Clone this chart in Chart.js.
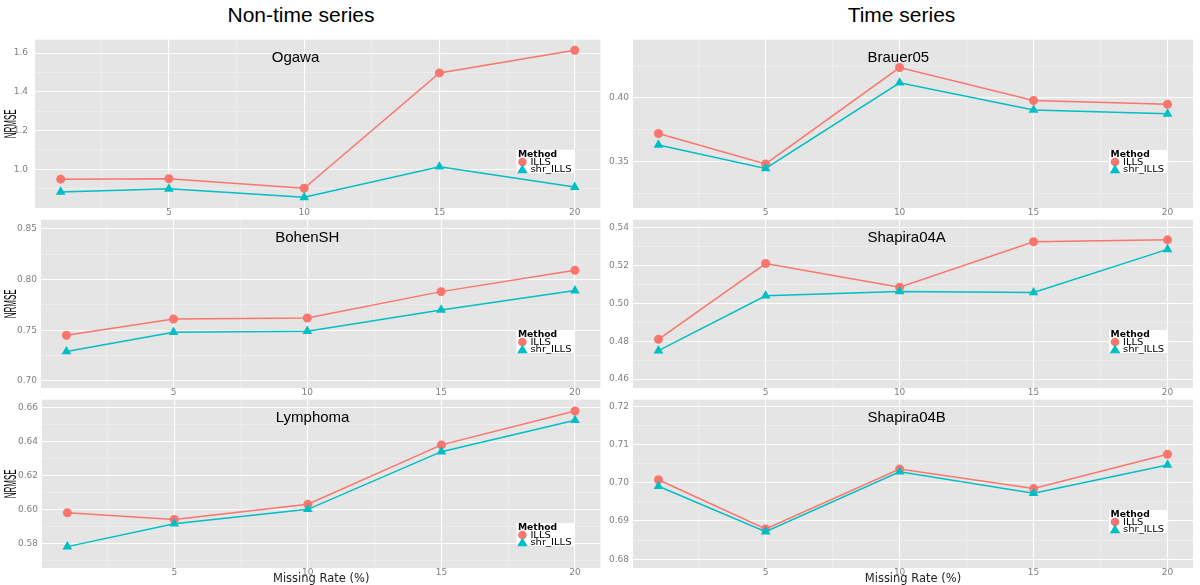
<!DOCTYPE html>
<html>
<head>
<meta charset="utf-8">
<script src="https://cdn.jsdelivr.net/npm/chart.js"></script>
<style>
  body { margin: 0; background: #fff; width: 1200px; height: 585px; position: relative; overflow: hidden; }
  .head { position: absolute; top: 3px; font-family: "Liberation Sans", Arial, sans-serif; font-size: 21px; color: #000; text-align: center; }
  .panel { position: absolute; }
</style>
</head>
<body>
<div class="head" style="left:0;width:602px">Non-time series</div>
<div class="head" style="left:603px;width:597px">Time series</div>

<script>
// ----- data -----
const missingRates = [1, 5, 10, 15, 20];
const xTicks = [5, 10, 15, 20];
const seriesNames = ["ILLS", "shr_ILLS"];

const ogawaILLS = [0.949, 0.951, 0.902, 1.498, 1.615];
const ogawaShr = [0.883, 0.899, 0.855, 1.013, 0.908];
const ogawaTicks = [1.0, 1.2, 1.4, 1.6];

const bohenILLS = [0.745, 0.761, 0.762, 0.788, 0.809];
const bohenShr = [0.729, 0.748, 0.749, 0.770, 0.789];
const bohenTicks = [0.70, 0.75, 0.80, 0.85];

const lymphILLS = [0.598, 0.594, 0.603, 0.638, 0.658];
const lymphShr = [0.578, 0.5915, 0.600, 0.634, 0.6525];
const lymphTicks = [0.58, 0.60, 0.62, 0.64, 0.66];

const brauerILLS = [0.372, 0.348, 0.424, 0.398, 0.395];
const brauerShr = [0.363, 0.3445, 0.412, 0.3905, 0.3875];
const brauerTicks = [0.35, 0.40];

const shapAILLS = [0.481, 0.521, 0.5085, 0.5325, 0.5335];
const shapAShr = [0.475, 0.504, 0.5063, 0.5057, 0.5285];
const shapATicks = [0.46, 0.48, 0.50, 0.52, 0.54];

const shapBILLS = [0.7008, 0.6879, 0.7036, 0.6985, 0.7075];
const shapBShr = [0.6991, 0.6872, 0.7029, 0.6973, 0.7047];
const shapBTicks = [0.68, 0.69, 0.70, 0.71, 0.72];

const colors = ["#F8766D", "#00BFC4"];

// ----- layout -----
const cols = [
  { canvasLeft: 0, canvasWidth: 606, areaRight: 602 },
  { canvasLeft: 603, canvasWidth: 597, areaRight: 1193 }
];
const rows = [
  { top: 38, bottom: 208, xh: 14 },
  { top: 218, bottom: 388, xh: 14 },
  { top: 398, bottom: 568, xh: 18 }
];

const panels = [
  { title: "Ogawa", col: 0, row: 0, ills: ogawaILLS, shr: ogawaShr, ticks: ogawaTicks, min: 0.80, max: 1.67, digits: 1, areaLeft: 35, tickPad: 7, legendBottom: 35 },
  { title: "BohenSH", col: 0, row: 1, ills: bohenILLS, shr: bohenShr, ticks: bohenTicks, min: 0.693, max: 0.859, digits: 2, areaLeft: 41, tickPad: 4, legendBottom: 35 },
  { title: "Lymphoma", col: 0, row: 2, ills: lymphILLS, shr: lymphShr, ticks: lymphTicks, min: 0.5654, max: 0.6647, digits: 2, areaLeft: 42, tickPad: 4, legendBottom: 22 },
  { title: "Brauer05", col: 1, row: 0, ills: brauerILLS, shr: brauerShr, ticks: brauerTicks, min: 0.3133, max: 0.446, digits: 2, areaLeft: 633, tickPad: 4, legendBottom: 35 },
  { title: "Shapira04A", col: 1, row: 1, ills: shapAILLS, shr: shapAShr, ticks: shapATicks, min: 0.4553, max: 0.5442, digits: 2, areaLeft: 633, tickPad: 4, legendBottom: 35 },
  { title: "Shapira04B", col: 1, row: 2, ills: shapBILLS, shr: shapBShr, ticks: shapBTicks, min: 0.6777, max: 0.7218, digits: 2, areaLeft: 633, tickPad: 4, legendBottom: 35 }
];

// majors plus ggplot-style minor breaks halfway between them
function withMinors(majors, min, max) {
  const step = majors.length > 1 ? majors[1] - majors[0] : 0.05;
  const out = [];
  majors.forEach((m) => { out.push(m); out.push(m - step / 2); });
  out.push(majors[majors.length - 1] + step / 2);
  return out.filter((v) => v >= min && v <= max).sort((a, b) => a - b);
}
const isMajor = (majors, v) => majors.some((m) => Math.abs(m - v) < 1e-9);

// text squeezed/stretched along its own direction (the source image was resized unevenly)
function stretchText(ctx, text, x, y, sx) {
  ctx.save();
  ctx.translate(x, y);
  ctx.scale(sx, 1);
  ctx.fillText(text, 0, 0);
  ctx.restore();
}

// grey panel, inside title, y title and the "Method" legend box
const panelDecor = {
  id: "panelDecor",
  beforeDraw(chart) {
    const { ctx, chartArea: a } = chart;
    ctx.save();
    ctx.fillStyle = "#E5E5E5";
    ctx.fillRect(a.left, a.top, a.right - a.left, a.bottom - a.top);
    ctx.restore();
  },
  afterDatasetsDraw(chart, args, opts) {
    const { ctx, chartArea: a } = chart;
    ctx.save();
    ctx.textAlign = "left";
    ctx.textBaseline = "middle";

    // panel title
    ctx.fillStyle = "#000";
    ctx.font = '15px "Liberation Sans", Arial, sans-serif';
    ctx.fillText(opts.title, chart.scales.x.getPixelForValue(8.8), a.top + 18);

    // y title, narrow
    if (opts.yTitle) {
      ctx.save();
      ctx.translate(11, (a.top + a.bottom) / 2);
      ctx.rotate(-Math.PI / 2);
      ctx.font = '17px "Liberation Sans Narrow", "Liberation Sans", sans-serif';
      ctx.textAlign = "center";
      const w = ctx.measureText(opts.yTitle).width;
      stretchText(ctx, opts.yTitle, 0, 0, 29 / w);
      ctx.restore();
    }

    // legend
    const right = a.right - 26, bottom = a.bottom - opts.legendBottom;
    const left = right - 58, top = bottom - 23;
    ctx.fillStyle = "#fff";
    ctx.fillRect(left, top, right - left, bottom - top);
    ctx.fillStyle = "#000";
    ctx.font = 'bold 8px "DejaVu Sans", sans-serif';
    stretchText(ctx, "Method", left + 1.5, top + 4.5, 1.15);
    ctx.font = '8px "DejaVu Sans", sans-serif';
    chart.data.datasets.forEach((ds, i) => {
      const cy = top + 12 + i * 7.6, cx = left + 6;
      ctx.fillStyle = ds.borderColor;
      ctx.beginPath();
      if (ds.pointStyle === "triangle") {
        ctx.moveTo(cx, cy - 5);
        ctx.lineTo(cx - 5.3, cy + 3.6);
        ctx.lineTo(cx + 5.3, cy + 3.6);
        ctx.closePath();
      } else {
        ctx.arc(cx, cy, 4.3, 0, Math.PI * 2);
      }
      ctx.fill();
      ctx.fillStyle = "#000";
      stretchText(ctx, ds.label, left + 14, cy + 0.5, 1.25);
    });
    ctx.restore();
  }
};

function makePanel(p) {
  const col = cols[p.col], row = rows[p.row];
  const div = document.createElement("div");
  div.className = "panel";
  div.style.left = col.canvasLeft + "px";
  div.style.top = (row.top - 4) + "px";
  div.style.width = col.canvasWidth + "px";
  div.style.height = (row.bottom - row.top + 4 + row.xh) + "px";
  const canvas = document.createElement("canvas");
  div.appendChild(canvas);
  document.body.appendChild(div);

  const pts = (vals) => missingRates.map((x, i) => ({ x, y: vals[i] }));
  const xMin = 0.05, xMax = 20.95;
  const noPad = (s) => { s.paddingTop = 0; s.paddingBottom = 0; s.paddingLeft = 0; s.paddingRight = 0; };

  new Chart(canvas, {
    type: "line",
    data: {
      datasets: [
        { label: seriesNames[0], data: pts(p.ills), borderColor: colors[0], backgroundColor: colors[0],
          pointStyle: "circle", pointRadius: 4.5, pointBorderWidth: 0, borderWidth: 1.5, tension: 0, order: 2 },
        { label: seriesNames[1], data: pts(p.shr), borderColor: colors[1], backgroundColor: colors[1],
          pointStyle: "triangle", pointRadius: 5.6, pointBorderWidth: 0, borderWidth: 1.5, tension: 0, order: 1 }
      ]
    },
    options: {
      responsive: true,
      maintainAspectRatio: false,
      animation: false,
      layout: { padding: { top: 4, right: col.canvasWidth - (col.areaRight - col.canvasLeft), bottom: 0, left: 0 } },
      plugins: {
        legend: { display: false },
        tooltip: { enabled: false },
        panelDecor: { title: p.title, legendBottom: p.legendBottom, yTitle: p.col === 0 ? "NRMSE" : "" }
      },
      scales: {
        x: {
          type: "linear",
          min: xMin,
          max: xMax,
          afterBuildTicks: (s) => { s.ticks = withMinors(xTicks, xMin, xMax).map((v) => ({ value: v })); },
          afterFit: (s) => { s.height = row.xh; noPad(s); },
          ticks: {
            autoSkip: false, maxRotation: 0, padding: 0, color: "#7F7F7F",
            font: { family: '"DejaVu Sans", sans-serif', size: 9, lineHeight: 1 },
            callback: (v) => (isMajor(xTicks, v) ? String(v) : "")
          },
          grid: {
            drawTicks: false,
            color: (c) => (isMajor(xTicks, c.tick.value) ? "#FFFFFF" : "#F2F2F2"),
            lineWidth: (c) => (isMajor(xTicks, c.tick.value) ? 1.1 : 0.6)
          },
          border: { display: false },
          title: {
            display: p.row === 2,
            text: "Missing Rate (%)",
            color: "#222",
            padding: 0,
            font: { family: '"DejaVu Sans", sans-serif', size: 11.5 }
          }
        },
        y: {
          min: p.min,
          max: p.max,
          afterBuildTicks: (s) => { s.ticks = withMinors(p.ticks, p.min, p.max).map((v) => ({ value: v })); },
          afterFit: (s) => { s.width = p.areaLeft - col.canvasLeft; noPad(s); },
          ticks: {
            autoSkip: false, padding: p.tickPad, color: "#7F7F7F",
            font: { family: '"DejaVu Sans", sans-serif', size: 9, lineHeight: 1 },
            callback: (v) => (isMajor(p.ticks, v) ? Number(v).toFixed(p.digits) : "")
          },
          grid: {
            drawTicks: false,
            color: (c) => (isMajor(p.ticks, c.tick.value) ? "#FFFFFF" : "#F2F2F2"),
            lineWidth: (c) => (isMajor(p.ticks, c.tick.value) ? 1.1 : 0.6)
          },
          border: { display: false }
        }
      }
    },
    plugins: [panelDecor]
  });
}

panels.forEach(makePanel);
</script>
</body>
</html>
